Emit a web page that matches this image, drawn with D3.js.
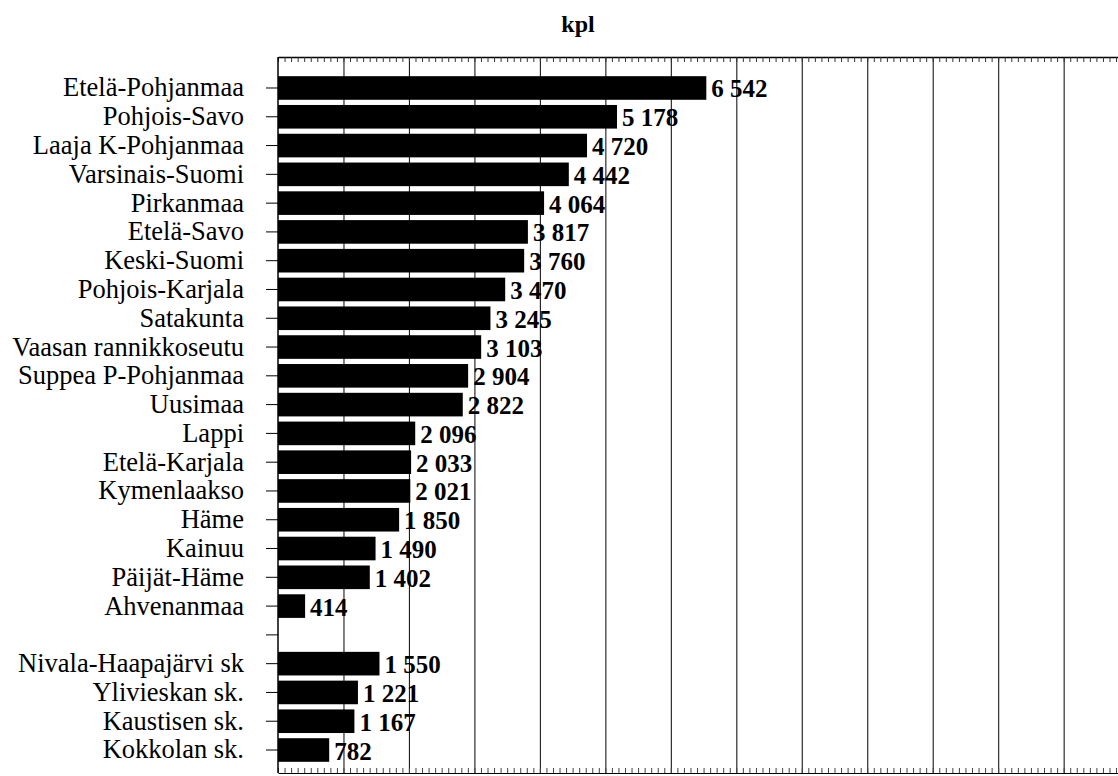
<!DOCTYPE html>
<html>
<head>
<meta charset="utf-8">
<script src="https://cdn.jsdelivr.net/npm/d3@7"></script>
<style>
	body { margin: 0; background: #fff; }
	svg { display: block; }
</style>
</head>
<body>
<div id="chart"></div>
<script>

/* data - a blank row separates the regions from the districts */
var regions = ["Etelä-Pohjanmaa", "Pohjois-Savo", "Laaja K-Pohjanmaa", "Varsinais-Suomi", "Pirkanmaa",
               "Etelä-Savo", "Keski-Suomi", "Pohjois-Karjala", "Satakunta", "Vaasan rannikkoseutu",
               "Suppea P-Pohjanmaa", "Uusimaa", "Lappi", "Etelä-Karjala", "Kymenlaakso", "Häme",
               "Kainuu", "Päijät-Häme", "Ahvenanmaa"];
var regionValues = [6542, 5178, 4720, 4442, 4064, 3817, 3760, 3470, 3245, 3103,
                    2904, 2822, 2096, 2033, 2021, 1850, 1490, 1402, 414];

var districts = ["Nivala-Haapajärvi sk", "Ylivieskan sk.", "Kaustisen sk.", "Kokkolan sk."];
var districtValues = [1550, 1221, 1167, 782];

var gridValues = d3.range(1000, 13000, 1000);
var minorValues = d3.range(0, 12900, 100);

var title = "kpl";

var drawChart = function(htmlID) {

	var width = 1118,
	    height = 776,
	    top = 57,
	    bottom = 773,
	    left = 278,
	    right = 1118;

	var rows = regions.map(function(d, i) { return { name: d, value: regionValues[i] }; })
	            .concat([{ name: " ", value: null }])
	            .concat(districts.map(function(d, i) { return { name: d, value: districtValues[i] }; }));

	var fmt = d3.formatLocale({ decimal: ",", thousands: " ", grouping: [3], currency: ["", ""] }).format(",d");

	var svg = d3.select(htmlID)
	            .append("svg")
	            .attr("width", width)
	            .attr("height", height)
	            .style("font-family", "'Liberation Serif', 'Times New Roman', serif");

	var x = d3.scaleLinear()
	            .domain([0, 12830])
	            .range([left, right]);

	var y = d3.scaleBand()
	            .domain(rows.map(function(d) { return d.name; }))
	            .range([73.6, 764.4])
	            .paddingInner(0.18)
	            .paddingOuter(0.09);

	/* vertical gridlines */
	svg.append("g")
	    .attr("class", "grid")
	    .attr("transform", "translate(0," + top + ")")
	    .call(d3.axisBottom(x).tickValues(gridValues).tickSize(bottom - top).tickFormat(""))
	    .call(function(g) { g.select(".domain").remove(); })
	    .selectAll("line")
	        .attr("stroke", "#1a1a1a")
	        .attr("stroke-width", 1.1);

	/* top and bottom frame with small ticks */
	svg.append("g")
	    .attr("transform", "translate(0," + top + ")")
	    .call(d3.axisBottom(x).tickValues(minorValues).tickSize(5).tickSizeOuter(0).tickFormat(""))
	    .call(function(g) {
	        g.select(".domain").attr("stroke", "#000").attr("stroke-width", 1.5);
	        g.selectAll(".tick line").attr("stroke", "#333");
	    });

	svg.append("g")
	    .attr("transform", "translate(0," + bottom + ")")
	    .call(d3.axisTop(x).tickValues(minorValues).tickSize(5).tickSizeOuter(0).tickFormat(""))
	    .call(function(g) {
	        g.select(".domain").attr("stroke", "#000").attr("stroke-width", 1.2);
	        g.selectAll(".tick line").attr("stroke", "#444");
	    });

	/* category axis */
	svg.append("g")
	    .attr("class", "y-axis")
	    .attr("transform", "translate(" + left + ",0)")
	    .call(d3.axisLeft(y).tickSize(12).tickPadding(22).tickSizeOuter(0))
	    .call(function(g) {
	        g.select(".domain").remove();
	        g.selectAll(".tick line").attr("stroke", "#000");
	        g.selectAll(".tick text")
	            .attr("font-size", 26.5)
	            .attr("font-family", "'Liberation Serif', 'Times New Roman', serif")
	            .attr("fill", "#000");
	    });

	svg.append("line")
	    .attr("x1", left)
	    .attr("x2", left)
	    .attr("y1", top)
	    .attr("y2", bottom)
	    .attr("stroke", "#000")
	    .attr("stroke-width", 1.5);

	var data = rows.filter(function(d) { return d.value != null; });

	/* bars */
	svg.append("g")
	    .selectAll("rect")
	    .data(data)
	    .enter().append("rect")
	        .attr("x", x(0))
	        .attr("y", function(d) { return y(d.name); })
	        .attr("width", function(d) { return x(d.value) - x(0); })
	        .attr("height", y.bandwidth())
	        .attr("fill", "#000");

	/* value labels */
	svg.append("g")
	    .selectAll("text")
	    .data(data)
	    .enter().append("text")
	        .attr("x", function(d) { return x(d.value) + 5; })
	        .attr("y", function(d) { return y(d.name) + y.bandwidth() / 2; })
	        .attr("dy", "0.38em")
	        .attr("font-size", 25)
	        .attr("font-weight", "bold")
	        .attr("fill", "#000")
	        .text(function(d) { return fmt(d.value); });

	/* title */
	svg.append("text")
	    .attr("x", 578)
	    .attr("y", 32)
	    .attr("text-anchor", "middle")
	    .attr("font-size", 24)
	    .attr("font-weight", "bold")
	    .text(title);
}

drawChart("#chart");

</script>
</body>
</html>
